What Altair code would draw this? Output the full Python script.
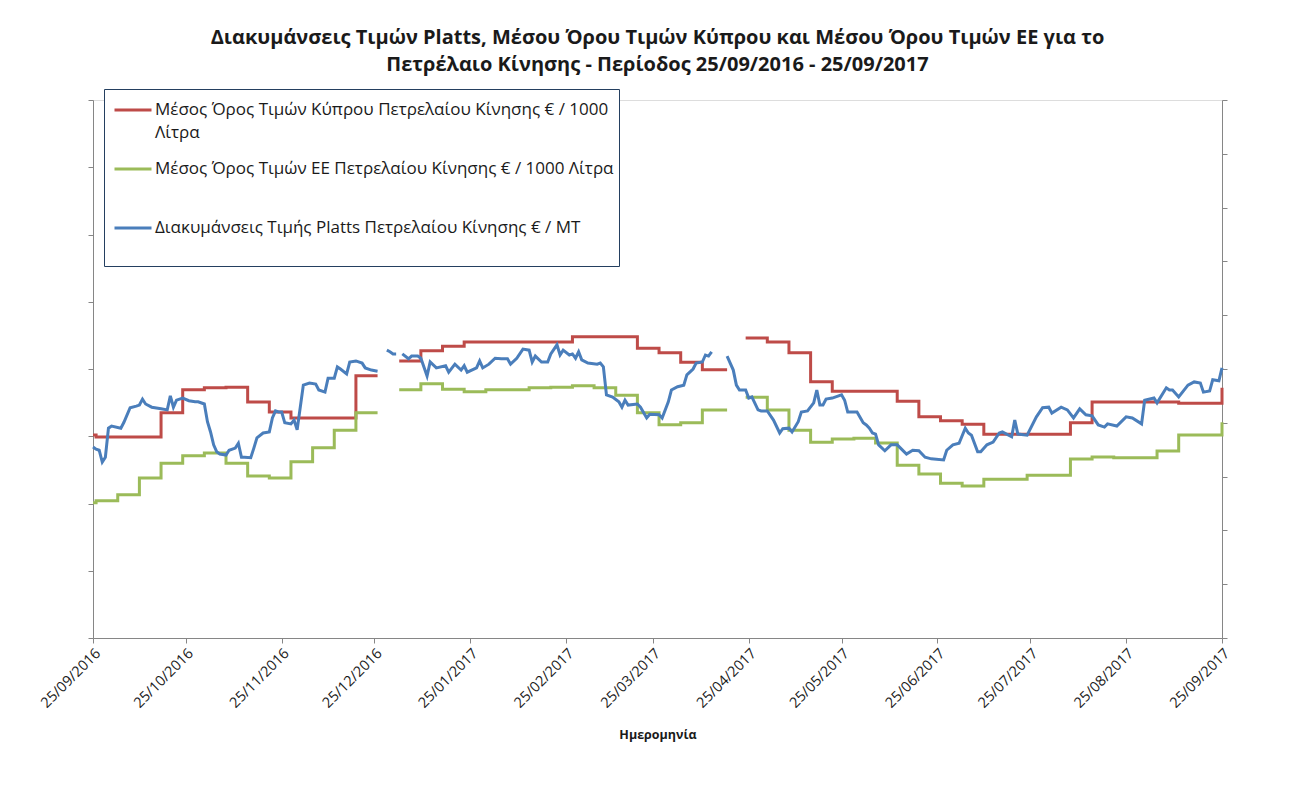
import altair as alt
import pandas as pd

START = "2016-09-25"

TITLE = ["Διακυμάνσεις Τιμών Platts, Μέσου Όρου Τιμών Κύπρου και Μέσου Όρου Τιμών ΕΕ για το",
         "Πετρέλαιο Κίνησης - Περίοδος  25/09/2016 - 25/09/2017"]
X_TITLE = "Ημερομηνία"

S_CY = "Μέσος Όρος Τιμών  Κύπρου Πετρελαίου Κίνησης  € / 1000 Λίτρα"
S_EU = "Μέσος Όρος Τιμών ΕΕ Πετρελαίου Κίνησης € / 1000  Λίτρα"
S_PL = "Διακυμάνσεις Τιμής Platts Πετρελαίου Κίνησης € / ΜΤ"
S_CY_LINES = ["Μέσος Όρος Τιμών  Κύπρου Πετρελαίου Κίνησης  € / 1000", "Λίτρα"]

SERIES = [S_CY, S_EU, S_PL]
COLORS = ["#BE4B48", "#9BBB59", "#4A7EBB"]

# x tick dates (25th of each month)
TICK_MONTHS = [(2016, 9), (2016, 10), (2016, 11), (2016, 12), (2017, 1), (2017, 2), (2017, 3),
               (2017, 4), (2017, 5), (2017, 6), (2017, 7), (2017, 8), (2017, 9)]

# Cyprus average (weekly), day offset from 25/09/2016, value in EUR/1000 L
cy_days = [0, 1, 22, 29, 36, 43, 50, 57, 64, 85, 92,
           99, 106, 113, 120, 155, 176, 183, 190, 197, 205,
           211, 218, 225, 232, 239, 260, 267, 274, 281, 288, 316, 323, 351, 365]
cy_vals = [502, 499, 535, 569, 572, 573, 551, 536, 527, 590, 590,
           612, 627, 634, 640, 648, 631, 624, 610, 599, 599,
           646, 640, 624, 581, 567, 552, 529, 523, 518, 503, 520, 551, 549, 572]

# EU average (weekly)
eu_days = [0, 1, 8, 15, 22, 29, 36, 43, 50, 57, 64, 71, 78, 85, 92,
           99, 106, 113, 120, 127, 141, 148, 155, 162, 169, 176, 183, 190, 197, 205,
           211, 218, 225, 232, 239, 246, 253, 260, 267, 274, 281, 288, 302, 316, 323, 330, 344, 351, 365]
eu_vals = [401, 404, 413, 438, 460, 471, 475, 460, 441, 438, 462, 483, 509, 535, 535,
           569, 578, 570, 566, 569, 572, 573, 575, 572, 561, 535, 517, 520, 539, 539,
           558, 539, 509, 491, 496, 497, 490, 457, 444, 430, 426, 436, 442, 466, 469, 468, 478, 502, 521]

# weekly series restart after these days (holiday gaps)
weekly_breaks = [99, 211]

# Platts (daily), EUR/MT
pl_days = [0, 1, 2, 3, 4, 5, 6, 9, 10, 12, 14, 15, 16, 17, 19, 20, 22, 24, 25, 26, 27, 29, 31, 33, 34,
           36, 37, 38, 39, 40, 41, 43, 44, 46, 47, 48, 49, 51, 52, 53, 55, 57, 58, 59, 60, 61, 62, 64,
           65, 66, 68, 70, 72, 73, 75, 76, 78, 79, 80, 82, 83, 85, 87, 88, 90, 92,
           95, 96, 97, 98,
           100, 102, 103, 105, 106, 108, 109, 111, 114, 115, 117, 119, 120, 121, 124, 125, 126, 128,
           130, 132, 134, 135, 137, 139, 141, 142, 143, 145, 147, 148, 150, 151, 152, 154, 155, 156,
           157, 158, 160, 163, 164, 165, 166, 168, 170, 171, 172, 173, 176, 177, 179, 180, 183, 184,
           186, 187, 189, 191, 192, 194, 195, 197, 198, 199, 200,
           205, 207, 208, 209, 211, 212, 213, 215, 216, 218, 220, 222, 223, 225, 226, 228, 229, 231,
           233, 234, 235, 236, 237, 239, 242, 243, 244, 247, 249, 250, 251, 252, 253, 254, 256, 258,
           260, 263, 265, 267, 269, 271, 275, 276, 278, 280, 282, 283, 284, 286, 287, 289, 291, 293,
           294, 297, 298, 299, 302, 305, 307, 309, 310, 313, 315, 317, 319, 321, 323, 325, 327, 328,
           331, 334, 336, 339, 340, 343, 344, 347, 348, 349, 351, 354, 356, 358, 359, 361, 362, 364, 365]
pl_vals = [355, 351, 349, 327, 336, 390, 394, 390, 401, 428, 431, 433, 444, 435, 429, 428, 426, 424, 450,
           429, 442, 446, 441, 439, 439,
           435, 402, 383, 359, 346, 342, 340, 349, 353, 362, 336, 336, 335, 353, 372, 381, 383, 409,
           422, 420, 420, 400, 398,
           405, 387, 470, 474, 472, 461, 457, 483, 483, 504, 500, 491, 513, 515, 511, 502, 498, 496,
           535, 532, 528, 528,
           528, 519, 524, 524, 520, 487, 513, 502, 506, 494, 509, 498, 506, 494, 502, 515, 502, 509,
           520, 519, 519, 509, 520, 537, 535, 513, 524, 513, 513, 528, 545, 526, 535, 526, 528, 520,
           532, 517, 511, 509, 511, 504, 452, 448, 439, 429, 442, 433, 435, 429, 409, 416, 415, 409,
           439, 461, 467, 470, 489, 500, 511, 513, 526, 524, 532,
           524, 498, 470, 461, 461, 446, 448, 424, 422, 422, 405, 381, 389, 390, 383, 402, 420, 422,
           437, 461, 433, 433, 444, 446, 452, 442, 420, 420, 400, 396, 390, 381, 379, 359, 348, 359,
           359, 342, 349, 348, 336, 333, 331, 349, 359, 362, 390, 381, 377, 346, 346, 359, 364, 381,
           383, 374, 405, 379, 377, 411, 428, 429, 418, 429, 424, 409, 426, 415, 413, 396, 392, 398,
           394, 411, 409, 398, 442, 446, 437, 465, 461, 461, 448, 470, 476, 474, 457, 459, 480, 478, 502]
pl_breaks = [95, 100, 205]


def frame(days, vals, name, breaks):
    df = pd.DataFrame({"day": days, "value": vals})
    df["series"] = name
    df["seg"] = [sum(1 for b in breaks if d >= b) for d in days]
    df["date"] = (pd.Timestamp(START) + pd.to_timedelta(df["day"], unit="D")).dt.strftime("%Y-%m-%dT00:00:00")
    return df


weekly = pd.concat([frame(cy_days, cy_vals, S_CY, weekly_breaks),
                    frame(eu_days, eu_vals, S_EU, weekly_breaks)], ignore_index=True)
platts = frame(pl_days, pl_vals, S_PL, pl_breaks)

FONT = "Open Sans"
AX = "#868686"
TXT = "#1a1a1a"

label_expr = "datum.label == '%s' ? ['%s', '%s'] : datum.label" % (S_CY, S_CY_LINES[0], S_CY_LINES[1])

x_enc = alt.X("date:T",
              scale=alt.Scale(domain=[alt.DateTime(year=2016, month=9, date=25),
                                      alt.DateTime(year=2017, month=9, date=25)], nice=False),
              axis=alt.Axis(values=[alt.DateTime(year=y, month=m, date=25) for y, m in TICK_MONTHS],
                            format="%d/%m/%Y", labelAngle=315, labelFontSize=14.5, labelFont=FONT,
                            labelColor=TXT, domainColor=AX, tickColor=AX, tickSize=5,
                            grid=False, title=X_TITLE, titleFont=FONT, titleFontSize=12.5,
                            titleFontWeight="bold", titleColor=TXT, titlePadding=19,
                            labelPadding=3, labelOverlap=False))

color_enc = alt.Color("series:N",
                      scale=alt.Scale(domain=SERIES, range=COLORS),
                      legend=alt.Legend(title=" ", titleOrient="bottom", titleFontSize=14, titlePadding=15,
                                        orient="none", legendX=11, legendY=-11,
                                        direction="vertical", symbolType="stroke", symbolSize=1369,
                                        symbolStrokeWidth=3, labelFont=FONT, labelFontSize=17,
                                        labelColor=TXT, labelLimit=700, labelExpr=label_expr,
                                        gridAlign="all", rowPadding=8, padding=1, symbolOffset=8,
                                        strokeColor="#243F60", fillColor="white", labelOffset=2))

left = alt.Chart(weekly).mark_line(interpolate="step-after", strokeWidth=3).encode(
    x=x_enc,
    y=alt.Y("value:Q", scale=alt.Scale(domain=[200, 1000], nice=False, zero=False),
            axis=alt.Axis(orient="left", values=list(range(200, 1001, 100)), labels=False,
                          grid=False, title=None, domainColor=AX, tickColor=AX, tickSize=5)),
    color=color_enc,
    detail="seg:N",
)

right = alt.Chart(platts).mark_line(strokeWidth=3).encode(
    x=x_enc,
    y=alt.Y("value:Q", scale=alt.Scale(domain=[0, 1000], nice=False, zero=False),
            axis=alt.Axis(orient="right", values=list(range(0, 1001, 100)), labels=False,
                          grid=False, title=None, domainColor=AX, tickColor=AX, tickSize=5)),
    color=color_enc,
    detail="seg:N",
)

chart = alt.layer(left, right).resolve_scale(y="independent").properties(
    width=1129, height=538,
    title=alt.TitleParams(text=TITLE, font=FONT, fontSize=20, fontWeight="bold", color=TXT,
                          anchor="middle", lineHeight=27, offset=14),
    autosize=alt.AutoSizeParams(type="none"),
    padding={"left": 85, "top": 92, "right": 60, "bottom": 143},
).configure_view(stroke=None).configure(
    background="white",
    style={"guide-label": {"lineHeight": 23}},
)

chart.save("out.html", embed_options={"renderer": "svg", "actions": False})
